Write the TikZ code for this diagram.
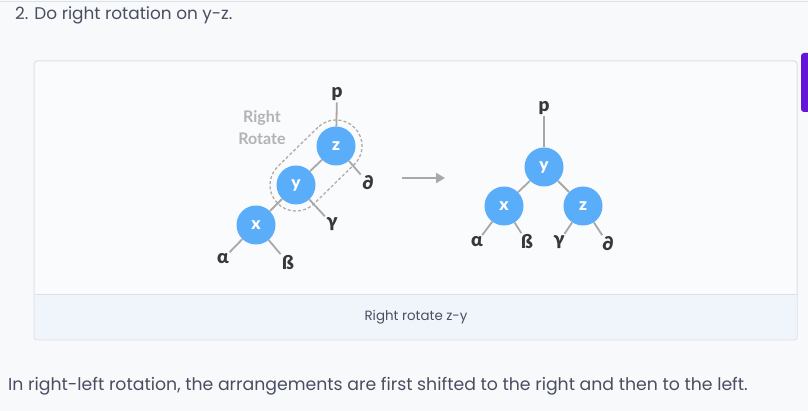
\documentclass[tikz,border=0pt]{standalone}
\usepackage{fontspec}
\setmainfont{Poppins}
\newfontfamily\latofont{Lato Black}
\newfontfamily\latobold{Lato Bold}
\usetikzlibrary{arrows.meta}
\definecolor{pagebg}{HTML}{F8F9FB}
\definecolor{boxbg}{HTML}{FAFBFD}
\definecolor{boxline}{HTML}{DCE0E7}
\definecolor{capbg}{HTML}{F0F4FB}
\definecolor{txt}{HTML}{4A4E62}
\definecolor{nodeblue}{HTML}{5AADF9}
\definecolor{edgegray}{HTML}{A8A8A8}
\definecolor{lbl}{HTML}{383838}
\definecolor{rotgray}{HTML}{B3B3B3}
\definecolor{dashcol}{HTML}{B3ACA5}
\definecolor{purp}{HTML}{6416D8}
\tikzset{
  tnode/.style={circle, fill=nodeblue, minimum size=39pt, inner sep=0pt,
    text=white, font=\latofont\fontsize{17}{17}\selectfont},
  lab/.style={text=lbl, inner sep=1.5pt, font=\latofont\fontsize{19}{19}\selectfont},
  edge/.style={draw=edgegray, line width=1.8pt},
}
\begin{document}
\begin{tikzpicture}[x=1pt,y=-1pt]
\useasboundingbox (0,0) rectangle (808,411);
\fill[pagebg] (0,0) rectangle (808,411);
\draw[boxline, line width=1pt] (0,2) -- (808,2);
% purple tab
\fill[purp, rounded corners=3pt] (801,53) rectangle (812,112);
% figure box
\draw[boxline, fill=boxbg, line width=1pt, rounded corners=3pt] (34,61) rectangle (797,340);
\fill[capbg, rounded corners=3pt] (34.5,295) rectangle (796.5,339.5);
\draw[boxline, line width=1pt] (34.5,295) -- (796.5,295);
% texts
\node[anchor=west, text=txt, inner sep=0pt, font=\fontsize{16.9}{16.9}\selectfont] (head) at (15,15) {2. Do right rotation on y-z.};
\node[text=txt, inner sep=0pt, font=\fontsize{13.4}{13.4}\selectfont] (cap) at (416,317) {Right rotate z-y};
\node[anchor=west, text=txt, inner sep=0pt, font=\fontsize{17.3}{17.3}\selectfont] (foot) at (8,386) {In right-left rotation, the arrangements are first shifted to the right and then to the left.};
% left tree
\node[draw=dashcol, dashed, dash pattern=on 3pt off 2.2pt, line width=1.3pt, rounded corners=26pt,
  minimum width=108pt, minimum height=52pt, rotate=44.3] (grp) at (316,165.5) {};
\node[tnode] (lz) at (336,146) {z};
\node[tnode] (ly) at (296,185) {y};
\node[tnode] (lx) at (256,225) {x};
\node[lab] (lp) at (337,94) {p};
\node[lab] (la) at (223,259) {α};
\node[lab] (lb) at (288,263) {ß};
\node[lab] (lg) at (332,224) {γ};
\node[lab] (ld) at (368,183) {∂};
\node[text=rotgray, align=center, font=\latobold\fontsize{16}{22}\selectfont] (rot) at (262,128) {Right\\Rotate};
\draw[edge] (lp) -- (lz);
\draw[edge] (lz) -- (ly);
\draw[edge] (ly) -- (lx);
\draw[edge] (lx) -- (la);
\draw[edge] (lx) -- (lb);
\draw[edge] (ly) -- (lg);
\draw[edge] (lz) -- (ld);
% arrow
\coordinate (as) at (402,178);
\coordinate (ae) at (445,178);
\draw[edgegray, line width=1.8pt, -{Triangle[length=9pt,width=10pt]}] (as) -- (ae);
% right tree
\node[tnode] (ry) at (544,167) {y};
\node[tnode] (rx) at (504,206) {x};
\node[tnode] (rz) at (583,206) {z};
\node[lab] (rp) at (544,108) {p};
\node[lab] (ra) at (477,242) {α};
\node[lab] (rb) at (527,242) {ß};
\node[lab] (rg) at (559,242) {γ};
\node[lab] (rd) at (608,244) {∂};
\draw[edge] (rp) -- (ry);
\draw[edge] (ry) -- (rx);
\draw[edge] (ry) -- (rz);
\draw[edge] (rx) -- (ra);
\draw[edge] (rx) -- (rb);
\draw[edge] (rz) -- (rg);
\draw[edge] (rz) -- (rd);
\end{tikzpicture}
\end{document}
